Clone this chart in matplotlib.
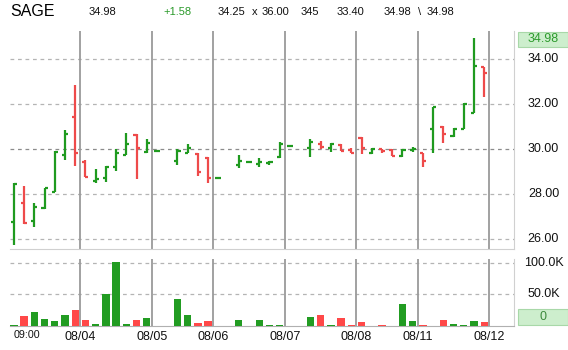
import numpy as np
import matplotlib
matplotlib.use("Agg")
import matplotlib.pyplot as plt
from matplotlib import transforms
from matplotlib.patches import Rectangle

plt.rcParams['font.family'] = ['Liberation Sans', 'DejaVu Sans']

nan = np.nan
opens  = [26.78, 27.63, 26.83, 27.40, 28.12, 29.75, 31.45, 29.42, 28.60, 28.74,
          29.23, 29.75, 30.64, 29.89, 29.94, nan, 29.49, 29.85, 29.79, 29.60,
          28.72, nan, 29.30, 29.45, 29.35, 29.38, 29.65, 30.13, nan, 30.04,
          30.24, 30.07, 30.19, 29.97, 30.49, 29.82, 30.00, 29.99, 29.70, 29.95,
          29.82, 30.90, 31.00, 30.59, 30.90, 31.63, 33.64]
highs  = [28.49, 28.37, 27.60, 28.29, 29.92, 30.86, 32.86, 29.52, 29.11, 29.26,
          30.00, 30.74, 30.68, 30.46, 29.96, nan, 30.00, 30.22, 29.82, 29.64,
          28.74, nan, 29.75, 29.47, 29.60, 29.48, 30.31, 30.15, nan, 30.44,
          30.38, 30.30, 30.22, 30.04, 30.53, 30.04, 30.01, 30.01, 30.01, 30.09,
          29.85, 31.89, 31.05, 30.93, 32.04, 34.93, 33.67]
lows   = [25.75, 26.68, 26.53, 27.33, 28.12, 29.52, 29.26, 28.78, 28.52, 28.56,
          29.04, 29.75, 28.67, 29.82, 29.92, nan, 29.30, 29.82, 28.81, 28.49,
          28.70, nan, 29.18, 29.43, 29.23, 29.30, 29.60, 30.11, nan, 29.67,
          30.01, 29.87, 29.92, 29.82, 29.78, 29.78, 29.82, 29.70, 29.67, 29.89,
          29.20, 29.82, 30.27, 30.56, 30.90, 31.60, 32.34]
closes = [28.45, 26.72, 27.42, 28.27, 29.88, 30.67, 29.82, 28.78, 28.68, 29.20,
          29.82, 30.22, 30.04, 30.27, 29.94, nan, 29.94, 30.04, 29.00, 28.71,
          28.72, nan, 29.48, 29.45, 29.45, 29.45, 30.24, 30.13, nan, 30.34,
          30.12, 30.22, 29.94, 29.85, 30.04, 30.01, 29.94, 29.70, 29.99, 30.00,
          29.49, 31.87, 30.68, 30.90, 32.01, 33.72, 33.40]
volumes_k = [1, 15, 21.4, 10.1, 7, 16.6, 24.6, 8.6, 2.2, 50.3,
             101.8, 2.2, 8.6, 11.8, 0, 0, 42.9, 16.6, 4.3, 7.5,
             0, 0, 8.6, 0, 8.6, 1, 1, 0, 0, 13.3,
             16.6, 1, 11.8, 1.5, 5.3, 0, 1, 0, 34.3, 7.5,
             1, 0, 8.6, 2.2, 1, 7.5, 5.3]

day_breaks = [6.5, 13.5, 19.5, 26.5, 33.5, 39.5, 46.5]
day_labels = ['08/04', '08/05', '08/06', '08/07', '08/08', '08/11', '08/12']
price_ticks = [26, 28, 30, 32, 34]
price_tick_labels = ['26.00', '28.00', '30.00', '32.00', '34.00']
vol_ticks_k = [50, 100]
vol_tick_labels = ['50.0K', '100.0K']
header_symbol = 'SAGE'
last_price = '34.98'

W, H = 568, 350
GREEN = '#1f9a1f'
RED = '#ee4a4a'
VGREEN = '#229c22'
VRED = '#ff4848'
GRID = '#b4b4b4'

def fx(px):
    return px / W

def fy(py):
    return 1 - py / H

fig = plt.figure(figsize=(W / 100, H / 100), dpi=100)

ax = fig.add_axes([fx(10), fy(249), (514 - 10) / W, (249 - 31) / H])
axv = fig.add_axes([fx(10), fy(325.5), (514 - 10) / W, (325.5 - 259) / H])

xlim = (-0.376, 48.91)
n = len(opens)
idx = np.arange(n)

# price OHLC bars
for i in idx:
    o, h, l, c = opens[i], highs[i], lows[i], closes[i]
    if np.isnan(o):
        continue
    col = GREEN if c >= o else RED
    ax.plot([i, i], [l, h], color=col, lw=1.6, solid_capstyle='butt', zorder=3)
    ax.plot([i - 0.3, i], [o, o], color=col, lw=1.6, solid_capstyle='butt', zorder=3)
    ax.plot([i, i + 0.3], [c, c], color=col, lw=1.6, solid_capstyle='butt', zorder=3)

ax.set_xlim(*xlim)
ax.set_ylim(25.57, 35.26)
for t in price_ticks:
    ax.axhline(t, color='#8c8c8c' if t == 30 else GRID, lw=0.9, ls=(0, (3, 3)), zorder=1)
for b in day_breaks:
    ax.axvline(b, color='#9a9a9a', lw=1.3, zorder=2)
for s in ['left', 'top']:
    ax.spines[s].set_visible(False)
ax.spines['bottom'].set_color('#d0d0d0')
ax.spines['right'].set_color('#d0d0d0')
ax.set_xticks([])
ax.set_yticks([])

# volume bars
vcols = []
for i in idx:
    o, c = opens[i], closes[i]
    if np.isnan(o):
        vcols.append(VGREEN)
    else:
        vcols.append(VGREEN if c >= o else VRED)
axv.bar(idx, np.array(volumes_k) * 1000, width=0.72, color=vcols, zorder=3)
axv.set_xlim(*xlim)
axv.set_ylim(0, 106900)
for t in vol_ticks_k:
    axv.axhline(t * 1000, color=GRID, lw=0.9, ls=(0, (3, 3)), zorder=1)
for b in day_breaks:
    axv.axvline(b, color='#9a9a9a', lw=1.3, zorder=2)
for s in ['left', 'top']:
    axv.spines[s].set_visible(False)
axv.spines['bottom'].set_color('#b0b0b0')
axv.spines['right'].set_color('#d0d0d0')
axv.set_xticks([])
axv.set_yticks([])

# right axis labels
tp = transforms.blended_transform_factory(fig.transFigure, ax.transData)
for t, lab in zip(price_ticks, price_tick_labels):
    fig.text(fx(543.5), t, lab, transform=tp, ha='center', va='center', fontsize=9, color='#111111')
tv = transforms.blended_transform_factory(fig.transFigure, axv.transData)
for t, lab in zip(vol_ticks_k, vol_tick_labels):
    fig.text(fx(543.5), t * 1000, lab, transform=tv, ha='center', va='center', fontsize=9, color='#111111')

# last price box
fig.patches.append(Rectangle((fx(518), fy(46.7)), (568 - 518) / W, (46.7 - 32.3) / H,
                             transform=fig.transFigure, facecolor='#cdeecd', edgecolor='#a8d8a8', lw=0.8))
fig.text(fx(543.5), fy(39.5), last_price, ha='center', va='center', fontsize=9, color='#2c9a2c')
fig.patches.append(Rectangle((fx(518), fy(325)), (568 - 518) / W, (325 - 309) / H,
                             transform=fig.transFigure, facecolor='#cdeecd', edgecolor='#a8d8a8', lw=0.8))
fig.text(fx(543), fy(317), '0', ha='center', va='center', fontsize=9, color='#3c8a3c')

# x labels
tx = transforms.blended_transform_factory(axv.transData, fig.transFigure)
for b, lab in zip(day_breaks, day_labels):
    fig.text(b, fy(337), lab, transform=tx, ha='center', va='center', fontsize=9, color='#111111')
fig.text(1.3, fy(335.5), '09:00', transform=tx, ha='center', va='center', fontsize=7.7, color='#111111')

# header
fig.text(fx(10.5), fy(12), header_symbol, ha='left', va='center', fontsize=11.5, color='#000000')
hy = fy(11.7)
fig.text(fx(89), hy, '34.98', ha='left', va='center', fontsize=8, color='#111111')
fig.text(fx(163), hy, '+1.58', ha='left', va='center', fontsize=8, color='#2a9a2a')
fig.text(fx(218), hy, '34.25', ha='left', va='center', fontsize=8, color='#111111')
fig.text(fx(252), hy, 'x', ha='left', va='center', fontsize=8, color='#111111')
fig.text(fx(262), hy, '36.00', ha='left', va='center', fontsize=8, color='#111111')
fig.text(fx(300.5), hy, '345', ha='left', va='center', fontsize=8, color='#111111')
fig.text(fx(337), hy, '33.40', ha='left', va='center', fontsize=8, color='#111111')
fig.text(fx(384), hy, '34.98', ha='left', va='center', fontsize=8, color='#111111')
fig.text(fx(417.5), hy, '\\', ha='left', va='center', fontsize=8, color='#111111')
fig.text(fx(426.5), hy, '34.98', ha='left', va='center', fontsize=8, color='#111111')

fig.savefig('out.png', dpi=100, facecolor='white')
